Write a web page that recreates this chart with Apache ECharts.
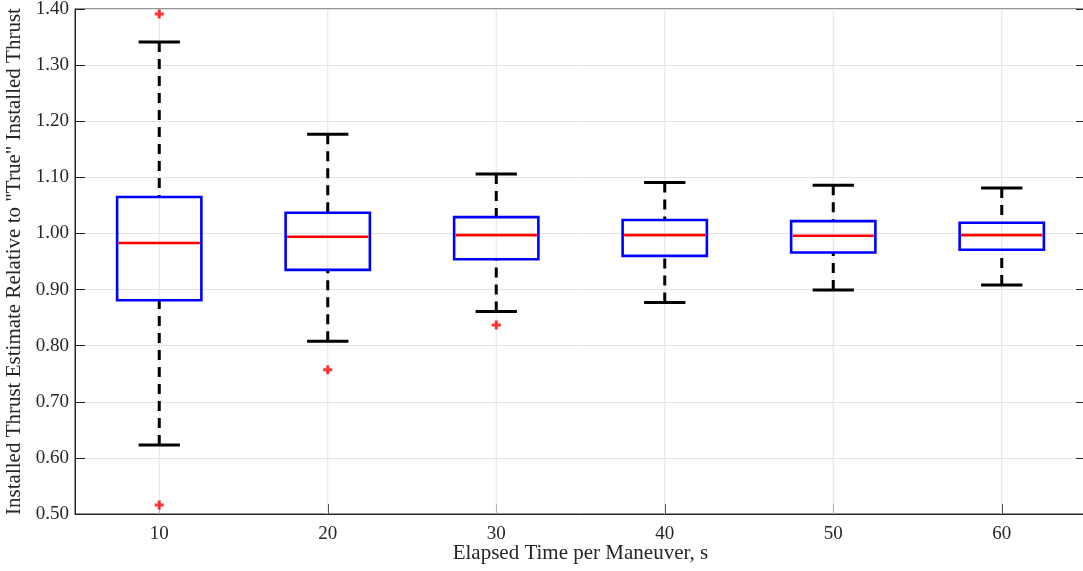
<!DOCTYPE html>
<html>
<head>
<meta charset="utf-8">
<script src="https://cdn.jsdelivr.net/npm/echarts@6/dist/echarts.min.js"></script>
<style>html,body{margin:0;padding:0;background:#fff}#c{width:1083px;height:571px}</style>
</head>
<body>
<div id="c"></div>
<script>
const categories = ['10', '20', '30', '40', '50', '60'];
const lowerWhisker = [0.623, 0.808, 0.861, 0.877, 0.899, 0.908];
const q1 = [0.881, 0.935, 0.954, 0.960, 0.966, 0.971];
const median = [0.983, 0.994, 0.997, 0.997, 0.996, 0.997];
const q3 = [1.065, 1.037, 1.029, 1.024, 1.022, 1.019];
const upperWhisker = [1.341, 1.177, 1.106, 1.091, 1.086, 1.081];
const outlierCats = ['10', '10', '20', '30'];
const outlierVals = [1.391, 0.516, 0.757, 0.837];

const FONT = '"Liberation Serif", "Times New Roman", serif';
const TXT = '#262626';

const boxData = categories.map((c, i) => [i, lowerWhisker[i], q1[i], median[i], q3[i], upperWhisker[i]]);
const outlierData = outlierCats.map((c, i) => [categories.indexOf(c), outlierVals[i]]);

function renderBox(params, api) {
  const idx = api.value(0);
  const band = api.size([1, 0])[0];
  const bw = band * 0.5;
  const cw = band * 0.245;
  const pLow = api.coord([idx, api.value(1)]);
  const pQ1 = api.coord([idx, api.value(2)]);
  const pMed = api.coord([idx, api.value(3)]);
  const pQ3 = api.coord([idx, api.value(4)]);
  const pHigh = api.coord([idx, api.value(5)]);
  const gTop = api.coord([idx, 1.4]);
  const gBot = api.coord([idx, 0.5]);
  const x = pMed[0];
  const dash = {stroke: '#000', lineWidth: 3, lineDash: [10, 7]};
  const solid = {stroke: '#000', lineWidth: 3};
  return {
    type: 'group',
    children: [
      {type: 'line', z2: 0, shape: {x1: x, y1: gTop[1], x2: x, y2: gBot[1]}, style: {stroke: '#e3e3e3', lineWidth: 1}},
      {type: 'line', z2: 1, shape: {x1: x, y1: pHigh[1], x2: x, y2: pQ3[1]}, style: dash},
      {type: 'line', z2: 1, shape: {x1: x, y1: pLow[1], x2: x, y2: pQ1[1]}, style: dash},
      {type: 'line', z2: 2, shape: {x1: x - cw / 2, y1: pHigh[1], x2: x + cw / 2, y2: pHigh[1]}, style: solid},
      {type: 'line', z2: 2, shape: {x1: x - cw / 2, y1: pLow[1], x2: x + cw / 2, y2: pLow[1]}, style: solid},
      {type: 'rect', z2: 3, shape: {x: x - bw / 2, y: pQ3[1], width: bw, height: pQ1[1] - pQ3[1]}, style: {fill: 'none', stroke: '#0000ff', lineWidth: 2.6}},
      {type: 'line', z2: 4, shape: {x1: x - bw / 2 + 1.5, y1: pMed[1], x2: x + bw / 2 - 1.5, y2: pMed[1]}, style: {stroke: '#ff0000', lineWidth: 2.6}}
    ]
  };
}

const chart = echarts.init(document.getElementById('c'), null, {renderer: 'canvas'});
chart.setOption({
  animation: false,
  backgroundColor: '#fff',
  grid: {left: 75, right: -3, top: 9, bottom: 57, show: true, borderColor: TXT, borderWidth: 1, backgroundColor: 'transparent', outerBoundsMode: 'none', containLabel: false},
  xAxis: [{
    type: 'category',
    data: categories,
    boundaryGap: true,
    name: 'Elapsed Time per Maneuver, s',
    nameLocation: 'middle',
    nameGap: 29,
    nameMoveOverlap: false,
    nameTextStyle: {fontFamily: FONT, fontSize: 21, color: TXT},
    axisLine: {show: true, lineStyle: {color: TXT, width: 1}},
    axisTick: {show: true, inside: true, length: 10, alignWithLabel: true, lineStyle: {color: TXT}},
    axisLabel: {fontFamily: FONT, fontSize: 19, color: TXT, margin: 11},
    splitLine: {show: false}
  }],
  yAxis: [{
    type: 'value',
    min: 0.5, max: 1.4, interval: 0.1,
    name: 'Installed Thrust Estimate Relative to "True" Installed Thrust',
    nameLocation: 'middle',
    nameGap: 50,
    nameMoveOverlap: false,
    nameTextStyle: {fontFamily: FONT, fontSize: 21, color: TXT},
    axisLine: {show: true, lineStyle: {color: TXT, width: 1}},
    axisTick: {show: true, inside: true, length: 10, lineStyle: {color: TXT}},
    axisLabel: {fontFamily: FONT, fontSize: 19, color: TXT, margin: 6, formatter: v => v.toFixed(2)},
    splitLine: {show: true, lineStyle: {color: '#e3e3e3', width: 1}}
  }, {
    type: 'value',
    position: 'right',
    min: 0.5, max: 1.4, interval: 0.1,
    axisLine: {show: true, lineStyle: {color: TXT, width: 1}},
    axisTick: {show: true, inside: true, length: 10, lineStyle: {color: TXT}},
    axisLabel: {show: false},
    splitLine: {show: false}
  }],
  series: [{
    type: 'custom',
    renderItem: renderBox,
    data: boxData,
    encode: {x: 0, y: [1, 2, 3, 4, 5]},
    clip: false,
    z: 2
  }, {
    type: 'scatter',
    data: outlierData,
    symbol: 'path://M3,0H6V3H9V6H6V9H3V6H0V3H3Z',
    symbolSize: 9,
    itemStyle: {color: '#ff0000'},
    z: 3
  }]
});
</script>
</body>
</html>
